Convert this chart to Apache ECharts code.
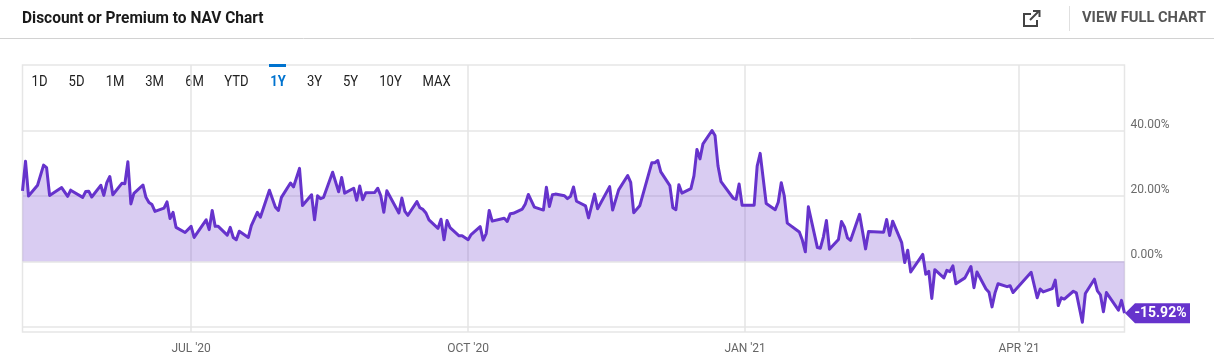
<!DOCTYPE html>
<html>
<head>
<meta charset="utf-8">
<title>Discount or Premium to NAV Chart</title>
<style>
    html, body { margin: 0; padding: 0; background: #fff; }
    #chart { width: 1214px; height: 364px; }
</style>
<script src="https://cdn.jsdelivr.net/npm/echarts@6/dist/echarts.min.js"></script>
</head>
<body>
<div id="chart"></div>
<script>
// 日期和折溢价数值
var dates = [
    '2020-05-06','2020-05-07','2020-05-08','2020-05-11','2020-05-13','2020-05-14','2020-05-15','2020-05-19','2020-05-21','2020-05-22',
    '2020-05-26','2020-05-27','2020-05-28','2020-05-29','2020-06-01','2020-06-02','2020-06-03','2020-06-04','2020-06-05','2020-06-08',
    '2020-06-09','2020-06-10','2020-06-11','2020-06-12','2020-06-15','2020-06-16','2020-06-17','2020-06-18','2020-06-19','2020-06-22',
    '2020-06-23','2020-06-24','2020-06-25','2020-06-26','2020-06-29','2020-07-01','2020-07-02','2020-07-06','2020-07-07','2020-07-08',
    '2020-07-09','2020-07-10','2020-07-13','2020-07-14','2020-07-15','2020-07-16','2020-07-17','2020-07-20','2020-07-21','2020-07-23',
    '2020-07-24','2020-07-27','2020-07-29','2020-07-30','2020-07-31','2020-08-03','2020-08-04','2020-08-06','2020-08-07','2020-08-10',
    '2020-08-11','2020-08-12','2020-08-13','2020-08-14','2020-08-17','2020-08-19','2020-08-20','2020-08-21','2020-08-24','2020-08-25',
    '2020-08-26','2020-08-27','2020-08-28','2020-08-31','2020-09-01','2020-09-02','2020-09-03','2020-09-04','2020-09-08','2020-09-09',
    '2020-09-10','2020-09-11','2020-09-14','2020-09-15','2020-09-16','2020-09-17','2020-09-18','2020-09-21','2020-09-22','2020-09-23',
    '2020-09-24','2020-09-25','2020-09-28','2020-09-29','2020-10-01','2020-10-02','2020-10-05','2020-10-06','2020-10-07','2020-10-08',
    '2020-10-09','2020-10-13','2020-10-14','2020-10-15','2020-10-16','2020-10-19','2020-10-20','2020-10-21','2020-10-23','2020-10-26',
    '2020-10-27','2020-10-28','2020-10-29','2020-10-30','2020-11-02','2020-11-03','2020-11-04','2020-11-05','2020-11-06','2020-11-09',
    '2020-11-10','2020-11-12','2020-11-13','2020-11-17','2020-11-18','2020-11-20','2020-11-23','2020-11-24','2020-11-25','2020-11-27',
    '2020-12-01','2020-12-02','2020-12-03','2020-12-04','2020-12-07','2020-12-08','2020-12-09','2020-12-10','2020-12-11','2020-12-14',
    '2020-12-15','2020-12-16','2020-12-17','2020-12-18','2020-12-21','2020-12-22','2020-12-23','2020-12-24','2020-12-28','2020-12-29',
    '2020-12-30','2020-12-31','2021-01-04','2021-01-05','2021-01-06','2021-01-08','2021-01-11','2021-01-12','2021-01-13','2021-01-14',
    '2021-01-15','2021-01-19','2021-01-20','2021-01-21','2021-01-22','2021-01-25','2021-01-26','2021-01-27','2021-01-28','2021-01-29',
    '2021-02-01','2021-02-02','2021-02-03','2021-02-04','2021-02-05','2021-02-08','2021-02-10','2021-02-11','2021-02-16','2021-02-17',
    '2021-02-18','2021-02-19','2021-02-22','2021-02-23','2021-02-24','2021-02-25','2021-03-01','2021-03-02','2021-03-03','2021-03-04',
    '2021-03-05','2021-03-08','2021-03-09','2021-03-10','2021-03-11','2021-03-12','2021-03-15','2021-03-17','2021-03-18','2021-03-19',
    '2021-03-22','2021-03-23','2021-03-24','2021-03-25','2021-03-26','2021-03-29','2021-03-30','2021-03-31','2021-04-06','2021-04-08',
    '2021-04-09','2021-04-10','2021-04-13','2021-04-14','2021-04-15','2021-04-16','2021-04-17','2021-04-20','2021-04-21','2021-04-23',
    '2021-04-24','2021-04-27','2021-04-28','2021-04-29','2021-04-30','2021-05-01','2021-05-05','2021-05-06','2021-05-07'
];
var values = [
    21.6,30.7,20,23.3,29.5,28.7,20.2,22.6,19.9,21.8,
    19.6,21.4,21.5,19.7,23.3,20.2,24.1,26,20.4,23.9,
    23.8,30.5,17.6,20.8,23.4,19.6,18,17.4,15.3,16.3,
    18.2,13.1,15,10.4,8.8,10.7,7.3,12.7,9.7,15.6,
    10.7,10.7,8,10.4,7.3,6.6,9.2,7.3,10.9,15,
    13.5,21.8,16.6,15.6,19.6,24,22.8,28.5,17.1,20.4,
    12.7,20.1,19.2,19.6,27.3,21.3,25.7,20.9,22.4,18.7,
    23.1,18.9,21,21.1,22.4,20.1,15,21.6,14.8,19.4,
    15.3,14.1,18.3,16.4,15.9,14.8,12.7,10.1,12.9,6.6,
    12.5,10.3,7.8,7.8,6.6,8.2,10.6,6.5,8.5,15.6,
    12.3,13.2,12.2,14.6,14.7,16,17.6,20.5,16.6,15.7,
    22.7,16.8,20.4,20.6,20.1,19.2,19.9,22.8,18.4,17,
    13.3,20.6,16.1,22.9,15.7,21.9,26.3,24.2,14.9,17,
    30.2,30.2,30.9,27.4,23.2,16.4,15.8,23.5,20.9,22.3,
    26.2,34.3,31.4,36,40.1,38.6,29.2,24.4,19.4,19,
    23.7,17.2,17.2,29.2,33.1,17.7,15.8,18.1,24.1,20.1,
    11.7,9,6.5,2.9,16.7,4.2,4,7.5,12.5,3.7,
    6.7,12.2,10.5,7.2,6.4,14.4,3.8,9.1,8.9,12.8,
    7.9,12.3,5.7,-0.4,3.4,-3.3,2.1,-4,-3.1,-11.4,
    -2.6,-5.1,-2.8,-3.2,-1.4,-6.9,-5.1,-1.6,-8.1,-3.3,
    -8.5,-9.5,-14,-9.7,-6.9,-7.8,-7.5,-9.6,-3.4,-11.2,
    -8.5,-9.4,-8.4,-5.8,-13.6,-11.2,-11.6,-9.2,-9.7,-18.7,
    -9.9,-5.5,-9.1,-10.3,-15.5,-9.6,-15,-12,-15.92
];
var xTicks = ['2020-07-01', '2020-10-01', '2021-01-01', '2021-04-02'];
var xTickLabels = ["JUL '20", "OCT '20", "JAN '21", "APR '21"];
var yTicks = [-20, 0, 20, 40];
var yTickLabels = [0, 20, 40];
var rangeLabels = ['1D', '5D', '1M', '3M', '6M', 'YTD', '1Y', '3Y', '5Y', '10Y', 'MAX'];
var activeRange = '1Y';
var lastLabel = '-15.92%';

var rangeX = [39.5, 76.5, 115, 154.5, 194.5, 236.5, 278, 314.5, 350.5, 390.5, 436.5];

// 日期转时间戳
function toTime(d) {
    return +new Date(d + 'T00:00:00');
}

var seriesData = dates.map(function (d, i) {
    return [toTime(d), values[i]];
});
var xTickTimes = xTicks.map(toTime);

var myChart = echarts.init(document.getElementById('chart'));

// 顶部标题和按钮
var graphics = [
    { type: 'text', x: 22, y: 19, scaleX: 0.91, style: { text: 'Discount or Premium to NAV Chart', font: 'bold 17px Roboto', fill: '#1a1a1a', textAlign: 'left', textVerticalAlign: 'middle' } },
    { type: 'line', shape: { x1: 0, y1: 38.5, x2: 1214, y2: 38.5 }, style: { stroke: '#d2d2d2', lineWidth: 1 } },
    { type: 'line', shape: { x1: 1069.5, y1: 6, x2: 1069.5, y2: 31 }, style: { stroke: '#e0e0e0', lineWidth: 1 } },
    { type: 'text', x: 1082, y: 18, scaleX: 0.98, style: { text: 'VIEW FULL CHART', font: 'bold 15px Roboto', fill: '#555555', textAlign: 'left', textVerticalAlign: 'middle' } },
    { type: 'polyline', shape: { points: [[1031, 14], [1024, 14], [1024, 26], [1037, 26], [1037, 20]] }, style: { stroke: '#444444', lineWidth: 2, fill: null } },
    { type: 'line', shape: { x1: 1030, y1: 20, x2: 1039, y2: 11 }, style: { stroke: '#444444', lineWidth: 2 } },
    { type: 'polyline', shape: { points: [[1033, 11], [1039.5, 11], [1039.5, 17]] }, style: { stroke: '#444444', lineWidth: 2, fill: null } },
    { type: 'rect', shape: { x: 269, y: 64, width: 17, height: 3 }, style: { fill: '#0073cf' } }
];
rangeLabels.forEach(function (label, i) {
    var active = label === activeRange;
    graphics.push({
        type: 'text', x: rangeX[i], y: 82, scaleX: 0.9,
        style: {
            text: label,
            font: (active ? 'bold ' : '') + '14.5px Roboto',
            fill: active ? '#0073cf' : '#222222',
            textAlign: 'center',
            textVerticalAlign: 'middle'
        }
    });
});

option = {
    animation: false,
    graphic: graphics,
    grid: {
        left: 22.5,
        right: 89.5,
        top: 65,
        height: 267,
        show: true,
        borderColor: '#e6e6e6',
        borderWidth: 1.5,
        backgroundColor: 'transparent'
    },
    xAxis: {
        type: 'value',
        min: toTime('2020-05-06'),
        max: toTime('2021-05-07'),
        axisLine: { show: false },
        axisTick: { show: false, customValues: xTickTimes },
        axisLabel: {
            color: '#666666',
            fontFamily: 'Roboto',
            fontSize: 12,
            margin: 11,
            customValues: xTickTimes,
            formatter: function (value) {
                return xTickLabels[xTickTimes.indexOf(value)];
            }
        },
        splitLine: { show: true, lineStyle: { color: '#e4e4e4', width: 1.5 } }
    },
    yAxis: {
        type: 'value',
        position: 'right',
        min: -21.7,
        max: 60.2,
        axisLine: { show: false },
        axisTick: { show: false, customValues: yTicks },
        axisLabel: {
            color: '#6b6b6b',
            fontFamily: 'Roboto',
            fontSize: 12,
            margin: 6,
            verticalAlign: 'bottom',
            customValues: yTickLabels,
            formatter: function (value) {
                return value.toFixed(2) + '%';
            }
        },
        splitLine: { show: true, lineStyle: { color: '#e6e6e6', width: 1.5 } }
    },
    series: [{
        type: 'line',
        data: seriesData,
        symbol: 'none',
        clip: false,
        lineStyle: { color: '#6633cc', width: 3, join: 'round' },
        areaStyle: { color: 'rgba(102, 51, 204, 0.25)', opacity: 1 },
        markPoint: {
            silent: true,
            symbol: 'path://M0 10 L10 0 L65 0 L65 20 L10 20 Z',
            symbolSize: [65, 20],
            symbolOffset: [33, 0],
            symbolKeepAspect: false,
            itemStyle: { color: '#6633cc' },
            label: {
                show: true,
                color: '#ffffff',
                fontFamily: 'Roboto',
                fontWeight: 'bold',
                fontSize: 14,
                offset: [3, 0],
                formatter: lastLabel
            },
            data: [{ coord: seriesData[seriesData.length - 1] }]
        }
    }]
};
myChart.setOption(option);
</script>
</body>
</html>
